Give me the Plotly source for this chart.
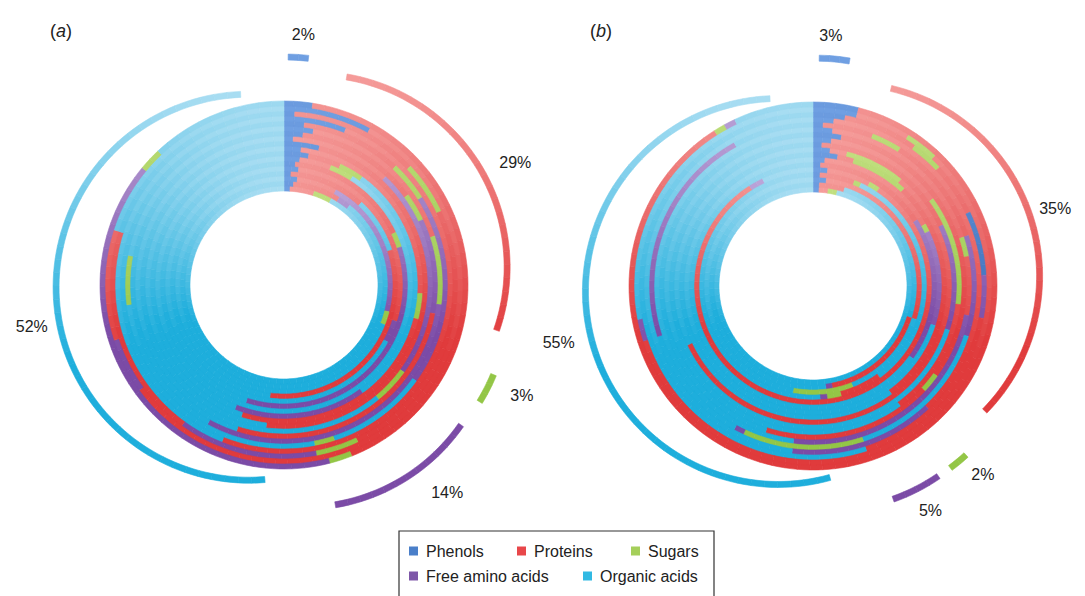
import math
import plotly.graph_objects as go

W, H = 1085, 596

# Fraction classes and their one-letter codes used in the ring sequences
CLASSES = ["Phenols", "Proteins", "Sugars", "Free amino acids", "Organic acids"]
CODES = ["P", "R", "S", "F", "O"]

# Overall composition (%) shown on the exploded outer ring
TOTAL_A = [2, 29, 3, 14, 52]
TOTAL_B = [3, 35, 2, 5, 55]

# Individual sample rings, innermost first: fraction sequence (clockwise from 12 o'clock) and shares (%)
RINGS_A_CODES = [
    "PRSO", "PRFO", "PRFSO", "PRORO", "PRFO", "PRSFO", "PRSO", "PRSOFO", "PRSRO",
    "PRO", "PRFSO", "PRSFRO", "PRSFOSO", "PRSFOSO", "PRO", "PRSRSFRO", "PRFRO", "PRSFSO",
]
RINGS_A_SHARES = [
    [1, 4, 3, 92],
    [1.5, 7.5, 2, 89],
    [2, 6, 21, 2, 69],
    [1, 11, 8, 32, 48],
    [2, 28, 3, 67],
    [1.5, 16.5, 2, 35, 45],
    [2, 4, 3, 91],
    [3, 4, 3, 30, 16, 44],
    [2, 24, 3, 26, 45],
    [4, 48, 48],
    [1, 11, 23, 4, 61],
    [2, 13, 3, 10, 27, 45],
    [3, 17, 7, 31, 15, 5, 22],
    [2, 10, 4, 19, 10, 2, 53],
    [6, 50, 44],
    [1, 12, 5, 25, 4, 13, 20, 20],
    [8, 57, 5, 10, 20],
    [2.5, 41.5, 2, 40, 2, 12],
]

RINGS_B_CODES = [
    "PRSO", "PRORFO", "PROSO", "PRSORSFO", "PRSRFO", "PRFO", "PRSFO", "PRSRO", "PRSRO",
    "PRFO", "PRSRO", "PRSRO", "PRSRFO", "PRSRFOSFOFO", "PRFO", "PRSRPFRO", "PRSRFO", "PRSFO",
]
RINGS_B_SHARES = [
    [1, 1.5, 1.5, 96],
    [1, 4, 25, 17, 1, 52],
    [2, 28, 14, 9, 47],
    [1, 5, 1, 33, 6, 2, 1, 51],
    [2, 6, 1.5, 81.5, 2, 7],
    [1, 15, 19, 65],
    [1.5, 15.5, 1, 12, 70],
    [3, 2, 7, 28, 60],
    [2, 2, 7, 57, 32],
    [1, 17, 12, 70],
    [2, 13, 12, 13, 60],
    [3, 32, 2, 18, 45],
    [2, 18, 2, 6, 24, 48],
    [1, 5, 3, 11, 10, 15, 12, 1, 12, 22, 8],
    [2, 36, 14, 48],
    [3, 7, 3, 5, 6, 4, 17, 55],
    [4, 5, 3, 58, 2, 28],
    [4, 87, 1, 1, 7],
]

# ---- styling -------------------------------------------------------------
SHADES = {  # (upper, lower) colour of each fraction, giving the lit look
    "P": ("#6f9fe2", "#3a6cb8"),
    "R": ("#f59c9a", "#e03b3c"),
    "S": ("#c2df80", "#93c646"),
    "F": ("#c0abdc", "#7b4ba6"),
    "O": ("#a8ddf2", "#1eaedc"),
}
LEGEND_COLORS = ["#4a7fc9", "#e8474a", "#a5cf5a", "#7e57a8", "#31b9e3"]

RMAX = 235          # radial axis range; polar domains are sized so 1 unit = 1 px
HOLE = 94           # inner radius of the sample rings
RING_W = 5          # width of one sample ring
STEP = 4            # max angular size of one shaded piece (deg)
ALT_SHADE = 0.08    # extra darkening of every other ring
ARC_R = 190         # inner radius of the exploded summary arcs
ARC_W = 6
EXPLODE = 35        # outward shift of each summary arc
CENTER_A = (284, 285)
CENTER_B = (813, 286)
LABEL_R_A = [215, 226, 228, 230, 221]
LABEL_R_B = [215, 219, 220, 220, 226]
LABEL_NUDGE_A = [1, 3.5, -2, -6.5, -7]
LABEL_NUDGE_B = [-1.5, -1.5, -2.5, -0.5, -4.5]
FONT = "Liberation Sans, Arial, sans-serif"


def hex_rgb(h):
    return tuple(int(h[i:i + 2], 16) for i in (1, 3, 5))


def shade(code, theta, extra=0.0):
    top, bottom = (hex_rgb(c) for c in SHADES[code])
    t = (1 - math.cos(math.radians(theta))) / 1.4 + extra
    t = min(max(t, 0.0), 1.0)
    rgb = [round(a + (b - a) * t) for a, b in zip(top, bottom)]
    return "rgb({},{},{})".format(*rgb)


def polar_layout(cx, cy):
    return dict(
        domain=dict(x=[(cx - RMAX) / W, (cx + RMAX) / W],
                    y=[1 - (cy + RMAX) / H, 1 - (cy - RMAX) / H]),
        bgcolor="rgba(0,0,0,0)",
        barmode="overlay",
        radialaxis=dict(range=[0, RMAX], visible=False),
        angularaxis=dict(rotation=90, direction="clockwise", visible=False),
    )


def ring_trace(codes_list, shares_list, subplot):
    r, base, theta, width, colors = [], [], [], [], []
    last = len(codes_list) - 1
    for k, (codes, shares) in enumerate(zip(codes_list, shares_list)):
        total = float(sum(shares))
        start = 0.0
        # each ring reaches slightly under the next one so no seam shows between them
        thick = RING_W if k == last else RING_W + 1
        for code, share in zip(codes, shares):
            ext = 360.0 * share / total
            n = max(1, math.ceil(ext / STEP))
            for j in range(n):
                w = ext / n
                mid = start + w * (j + 0.5)
                r.append(thick)
                base.append(HOLE + k * RING_W)
                theta.append(mid)
                width.append(w)
                colors.append(shade(code, mid, ALT_SHADE if k % 2 else 0.0))
            start += ext
    return go.Barpolar(
        r=r, base=base, theta=theta, width=width, subplot=subplot,
        marker=dict(color=colors, line=dict(color=colors, width=0.6)),
        hoverinfo="skip", showlegend=False,
    )


fig = go.Figure()
layout_polars = {}
polar_count = [0]


def new_polar(cx, cy):
    polar_count[0] += 1
    name = "polar" if polar_count[0] == 1 else "polar%d" % polar_count[0]
    layout_polars[name] = polar_layout(cx, cy)
    return name


def panel(center, codes_list, shares_list, totals, label_r, nudges):
    cx, cy = center
    fig.add_trace(ring_trace(codes_list, shares_list, new_polar(cx, cy)))
    cum = 0.0
    for i, value in enumerate(totals):
        a0 = 360.0 * cum / 100.0
        ext = 360.0 * value / 100.0
        cum += value
        mid = a0 + ext / 2
        gap = min(2.5, 0.08 * ext)
        span = ext - 2 * gap
        n = max(1, math.ceil(span / STEP))
        code = CODES[i]
        thetas = [a0 + gap + span * (j + 0.5) / n for j in range(n)]
        cols = [shade(code, t) for t in thetas]
        dx = EXPLODE * math.sin(math.radians(mid))
        dy = -EXPLODE * math.cos(math.radians(mid))
        sub = new_polar(cx + dx, cy + dy)
        fig.add_trace(go.Barpolar(
            r=[ARC_W] * n, base=[ARC_R] * n, theta=thetas, width=[span / n] * n,
            subplot=sub, marker=dict(color=cols, line=dict(color=cols, width=0.6)),
            hoverinfo="skip", showlegend=False,
        ))
        fig.add_trace(go.Scatterpolar(
            r=[label_r[i]], theta=[mid + nudges[i]], mode="text",
            text=["%d%%" % value], textfont=dict(size=16, color="#222", family=FONT),
            subplot=sub, cliponaxis=False, hoverinfo="skip", showlegend=False,
        ))


panel(CENTER_A, RINGS_A_CODES, RINGS_A_SHARES, TOTAL_A, LABEL_R_A, LABEL_NUDGE_A)
panel(CENTER_B, RINGS_B_CODES, RINGS_B_SHARES, TOTAL_B, LABEL_R_B, LABEL_NUDGE_B)

# ---- panel letters and legend box ---------------------------------------
annotations = [
    dict(text="(<i>a</i>)", x=48 / W, y=1 - 31 / H, xref="paper", yref="paper",
         xanchor="left", yanchor="middle", showarrow=False,
         font=dict(size=18, color="#222", family=FONT)),
    dict(text="(<i>b</i>)", x=588 / W, y=1 - 31 / H, xref="paper", yref="paper",
         xanchor="left", yanchor="middle", showarrow=False,
         font=dict(size=18, color="#222", family=FONT)),
]
shapes = [
    dict(type="rect", xref="paper", yref="paper", x0=399 / W, x1=714 / W,
         y0=1 - 605 / H, y1=1 - 531 / H, line=dict(color="#333", width=1.2),
         fillcolor="white", layer="below"),
]
LEGEND_POS = [(409, 551), (517, 551), (631, 551), (409, 576), (583, 576)]
for name, col, (lx, ly) in zip(CLASSES, LEGEND_COLORS, LEGEND_POS):
    shapes.append(dict(type="rect", xref="paper", yref="paper",
                       x0=lx / W, x1=(lx + 9) / W, y0=1 - (ly + 4.5) / H, y1=1 - (ly - 4.5) / H,
                       line=dict(width=0), fillcolor=col))
    annotations.append(dict(text=name, x=(lx + 15) / W, y=1 - ly / H, xref="paper", yref="paper",
                            xanchor="left", yanchor="middle", showarrow=False,
                            font=dict(size=16, color="#222", family=FONT)))

fig.update_layout(
    width=W, height=H, autosize=False,
    margin=dict(l=0, r=0, t=0, b=0),
    paper_bgcolor="white", plot_bgcolor="white",
    showlegend=False,
    annotations=annotations, shapes=shapes,
    **layout_polars,
)

fig.write_html("out.html")
